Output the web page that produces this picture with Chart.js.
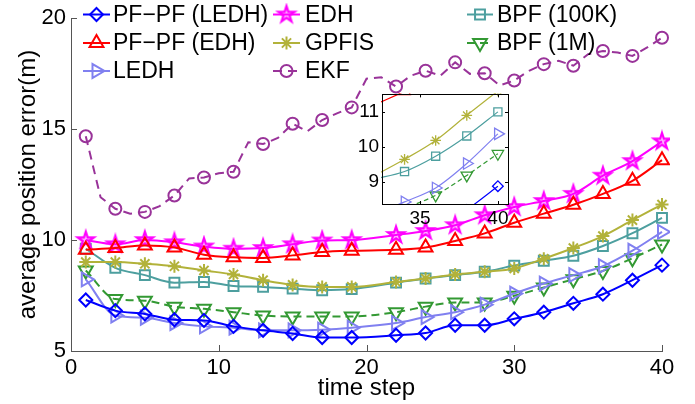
<!DOCTYPE html>
<html><head><meta charset="utf-8">
<script src="https://cdn.jsdelivr.net/npm/chart.js@4.4.1/dist/chart.umd.min.js"></script>
<style>
html,body{margin:0;padding:0;background:#fff;}
#wrap{position:relative;width:695px;height:404px;}
#main{position:absolute;left:0;top:0;width:695px;height:404px;}
#inset{position:absolute;left:355px;top:80px;width:165px;height:155px;}
</style>
</head><body>
<div id="wrap"><canvas id="main" width="695" height="404"></canvas><canvas id="inset" width="165" height="155"></canvas></div>
<script>
// ---------- data ----------
const markerSteps = [1,3,5,7,9,11,13,15,17,19,22,24,26,28,30,32,34,36,38,40];
const allSteps = Array.from({length:40},(_,i)=>i+1);
const pfpfLedh = [7.30,6.82,6.67,6.41,6.38,6.11,5.93,5.79,5.61,5.61,5.71,5.81,6.16,6.16,6.45,6.75,7.15,7.56,8.19,8.87];
const pfpfEdh  = [9.56,9.64,9.76,9.67,9.34,9.22,9.19,9.31,9.46,9.52,9.56,9.67,9.96,10.30,10.78,11.19,11.59,12.08,12.67,13.60];
const ledh     = [8.23,6.60,6.50,6.26,6.11,6.05,5.93,5.93,5.96,6.05,6.26,6.53,6.75,7.09,7.59,8.04,8.42,8.82,9.52,10.37];
const edh      = [10.00,9.81,10.00,9.90,9.71,9.61,9.64,9.81,9.98,10.00,10.23,10.41,10.67,11.12,11.49,11.76,12.08,12.90,13.56,14.45];
const gpfis    = [9.01,9.01,8.93,8.82,8.63,8.45,8.19,7.98,7.89,7.89,8.11,8.27,8.45,8.57,8.72,9.16,9.64,10.18,10.90,11.60];
const bpf100k  = [9.61,8.75,8.42,8.08,8.11,7.93,7.89,7.81,7.74,7.79,8.08,8.27,8.42,8.57,8.85,9.07,9.29,9.73,10.31,11.00];
const bpf1m    = [8.63,7.34,7.27,7.00,6.90,6.75,6.60,6.56,6.56,6.56,6.75,7.00,7.19,7.19,7.49,7.86,8.23,8.61,9.18,9.80];
const ekf      = [14.68,11.93,11.41,11.19,11.27,11.53,12.01,12.78,12.82,13.01,13.08,14.41,14.33,14.60,15.24,14.90,15.41,15.71,15.98,17.27,
                  17.34,16.92,17.41,17.63,17.41,18.01,17.49,17.52,16.97,17.19,17.63,17.93,18.08,17.86,18.38,18.52,18.45,18.30,18.68,19.12];
const xTicks = [0,10,20,30,40];
const yTicks = [5,10,15,20];
const insetXTicks = [35,40];
const insetYTicks = [9,10,11];
const labels = ['PF\u2212PF (LEDH)','PF\u2212PF (EDH)','LEDH','EDH','GPFIS','EKF','BPF (100K)','BPF (1M)'];

// ---------- styles ----------
const FONT = "'Liberation Sans', Arial, Helvetica, sans-serif";
const AXIS = '#555555';
const styles = [
  {color:'#0000ff', style:'rectRot', r:6.5, rot:0,   dash:[]},
  {color:'#ff0000', style:'triangle', r:8,  rot:0,   dash:[]},
  {color:'#8080f0', style:'triangle', r:8,  rot:90,  dash:[]},
  {color:'#ff00ff', style:'pentagram', r:8.5, rot:0, dash:[]},
  {color:'#b2b23a', style:'star',    r:6.5, rot:0,   dash:[]},
  {color:'#993399', style:'circle',  r:6,   rot:0,   dash:[9,6]},
  {color:'#4d9f9f', style:'rect',    r:7,   rot:0,   dash:[]},
  {color:'#339933', style:'triangle', r:8,  rot:180, dash:[8,5]}
];
const seriesValues = [pfpfLedh, pfpfEdh, ledh, edh, gpfis, ekf, bpf100k, bpf1m];

function pentPath(g, cx, cy, r){
  g.beginPath();
  for (let i=0;i<10;i++){
    const a = -Math.PI/2 + i*Math.PI/5;
    const rr = (i%2===0) ? r : r*0.382;
    g.lineTo(cx + rr*Math.cos(a), cy + rr*Math.sin(a));
  }
  g.closePath();
}
function makePentagram(r, color, lw){
  const size = Math.ceil(2*r + 2*lw + 2);
  const c = document.createElement('canvas'); c.width = size; c.height = size;
  const g = c.getContext('2d');
  pentPath(g, size/2, size/2, r);
  g.fillStyle = 'rgba(255,0,255,0.3)'; g.fill();
  g.strokeStyle = color; g.lineWidth = lw; g.lineJoin = 'miter'; g.stroke();
  return c;
}
const pentMain = makePentagram(8.5, '#ff00ff', 2.2);
const pentInset = makePentagram(6, '#ff00ff', 1.2);

function buildDatasets(inset){
  return seriesValues.map((vals, i) => {
    const s = styles[i];
    const steps = vals.length === 40 ? allSteps : markerSteps;
    const data = vals.map((v, k) => ({x: steps[k], y: v}));
    const r = inset ? s.r * 0.82 : s.r;
    const ps = s.style === 'pentagram' ? (inset ? pentInset : pentMain) : s.style;
    return {
      label: labels[i],
      data,
      borderColor: s.color,
      backgroundColor: s.color,
      borderWidth: inset ? 1.2 : 2,
      borderDash: inset ? s.dash.map(d => d*0.6) : s.dash,
      pointStyle: ps,
      pointRotation: s.rot,
      pointRadius: ctx => (markerSteps.includes(ctx.raw && ctx.raw.x) ? r : 0),
      pointBorderColor: s.color,
      pointBackgroundColor: 'rgba(0,0,0,0)',
      pointBorderWidth: inset ? 1.3 : 2,
      cubicInterpolationMode: vals.length === 40 ? 'default' : 'monotone',
      tension: 0,
      fill: false,
      clip: inset ? 1 : 8
    };
  });
}

function drawMarker(g, s, x, y, scale){
  const r = s.r * scale;
  g.save();
  g.strokeStyle = s.color; g.lineWidth = 2; g.setLineDash([]);
  g.beginPath();
  const rad = s.rot * Math.PI / 180;
  switch (s.style){
    case 'rectRot':
      g.moveTo(x, y - r); g.lineTo(x + r, y); g.lineTo(x, y + r); g.lineTo(x - r, y); g.closePath(); break;
    case 'triangle': {
      let a = rad;
      for (let k=0;k<3;k++){ const px = x + Math.sin(a)*r, py = y - Math.cos(a)*r; if(k===0) g.moveTo(px,py); else g.lineTo(px,py); a += 2*Math.PI/3; }
      g.closePath(); break; }
    case 'pentagram':
      g.restore();
      g.drawImage(pentMain, x - pentMain.width/2, y - pentMain.height/2);
      return;
    case 'star':
      for (let k=0;k<4;k++){ const a = k*Math.PI/4; g.moveTo(x - Math.cos(a)*r, y - Math.sin(a)*r); g.lineTo(x + Math.cos(a)*r, y + Math.sin(a)*r); }
      break;
    case 'circle':
      g.arc(x, y, r, 0, Math.PI*2); break;
    case 'rect': {
      const h = r * Math.SQRT1_2; g.rect(x - h, y - h, 2*h, 2*h); break; }
  }
  g.stroke();
  g.restore();
}

const legendPlugin = {
  id: 'customLegend',
  afterDatasetsDraw(chart){
    const g = chart.ctx;
    const cols = [{l:83, r:110, t:113}, {l:273, r:300, t:305}, {l:467, r:493, t:497}];
    const rows = [14.5, 43, 71];
    labels.forEach((lab, i) => {
      const c = cols[Math.floor(i/3)], y = rows[i%3], s = styles[i];
      g.save();
      g.strokeStyle = s.color; g.lineWidth = 2; g.setLineDash(s.dash);
      g.beginPath(); g.moveTo(c.l, y); g.lineTo(c.r, y); g.stroke();
      g.restore();
      drawMarker(g, s, (c.l + c.r)/2, y, 1);
      g.save();
      g.fillStyle = '#000'; g.font = '23px ' + FONT; g.textBaseline = 'middle'; g.textAlign = 'left';
      g.fillText(lab, c.t, y + 1);
      g.restore();
    });
  }
};

function tickPlugin(allSides, len){
  return {
    id: 'inTicks',
    beforeDraw(chart){
      if (!allSides) return;
      const a = chart.chartArea, g = chart.ctx;
      g.save(); g.fillStyle = '#fff'; g.fillRect(a.left, a.top, a.right - a.left, a.bottom - a.top); g.restore();
    },
    afterDraw(chart){
      const g = chart.ctx, a = chart.chartArea, xs = chart.scales.x, ys = chart.scales.y;
      g.save(); g.strokeStyle = allSides ? '#000' : AXIS; g.lineWidth = 1;
      xs.ticks.forEach(t => {
        const px = Math.round(xs.getPixelForValue(t.value)) + 0.5;
        g.beginPath(); g.moveTo(px, a.bottom); g.lineTo(px, a.bottom - len);
        if (allSides){ g.moveTo(px, a.top); g.lineTo(px, a.top + len); }
        g.stroke();
      });
      ys.ticks.forEach(t => {
        const py = Math.round(ys.getPixelForValue(t.value)) + 0.5;
        g.beginPath(); g.moveTo(a.left, py); g.lineTo(a.left + len, py);
        if (allSides){ g.moveTo(a.right, py); g.lineTo(a.right - len, py); }
        g.stroke();
      });
      if (allSides){
        g.strokeRect(Math.round(a.left)+0.5, Math.round(a.top)+0.5, Math.round(a.right-a.left), Math.round(a.bottom-a.top));
      }
      g.restore();
    }
  };
}

// ---------- main chart ----------
new Chart(document.getElementById('main'), {
  type: 'line',
  data: { datasets: buildDatasets(false) },
  options: {
    responsive: false, animation: false, devicePixelRatio: 1,
    layout: { padding: { top: 13, right: 33, left: 0, bottom: 0 } },
    plugins: { legend: { display: false }, tooltip: { enabled: false } },
    scales: {
      x: {
        type: 'linear', min: 0, max: 40,
        afterBuildTicks: s => { s.ticks = xTicks.map(v => ({value: v})); },
        ticks: { font: { size: 22, family: FONT }, color: '#000', padding: 4, maxRotation: 0 },
        grid: { drawOnChartArea: false, drawTicks: false },
        border: { color: AXIS, width: 1 },
        title: { display: true, text: 'time step', font: { size: 24, family: FONT }, color: '#000', padding: { top: 0, bottom: 1 } },
        afterFit: s => { s.height = 53; }
      },
      y: {
        type: 'linear', min: 5, max: 20,
        afterBuildTicks: s => { s.ticks = yTicks.map(v => ({value: v})); },
        ticks: { font: { size: 22, family: FONT }, color: '#000', padding: 5 },
        grid: { drawOnChartArea: false, drawTicks: false },
        border: { color: AXIS, width: 1 },
        title: { display: true, text: 'average position error(m)', font: { size: 24, family: FONT }, color: '#000', padding: { top: 14, bottom: 0 } },
        afterFit: s => { s.width = 71; }
      }
    }
  },
  plugins: [legendPlugin, tickPlugin(false, 6)]
});

// ---------- inset chart ----------
new Chart(document.getElementById('inset'), {
  type: 'line',
  data: { datasets: buildDatasets(true) },
  options: {
    responsive: false, animation: false, devicePixelRatio: 1,
    layout: { padding: { top: 6, right: 12, left: 0, bottom: 0 } },
    plugins: { legend: { display: false }, tooltip: { enabled: false } },
    scales: {
      x: {
        type: 'linear', min: 32.55, max: 40.65,
        afterBuildTicks: s => { s.ticks = insetXTicks.map(v => ({value: v})); },
        ticks: { font: { size: 19, family: FONT }, color: '#000', padding: 3, maxRotation: 0 },
        grid: { drawOnChartArea: false, drawTicks: false },
        border: { display: false },
        afterFit: s => { s.height = 31; }
      },
      y: {
        type: 'linear', min: 8.36, max: 11.5,
        afterBuildTicks: s => { s.ticks = insetYTicks.map(v => ({value: v})); },
        ticks: { font: { size: 19, family: FONT }, color: '#000', padding: 3 },
        grid: { drawOnChartArea: false, drawTicks: false },
        border: { display: false },
        afterFit: s => { s.width = 27; }
      }
    }
  },
  plugins: [tickPlugin(true, 3)]
});
</script>
</body></html>
